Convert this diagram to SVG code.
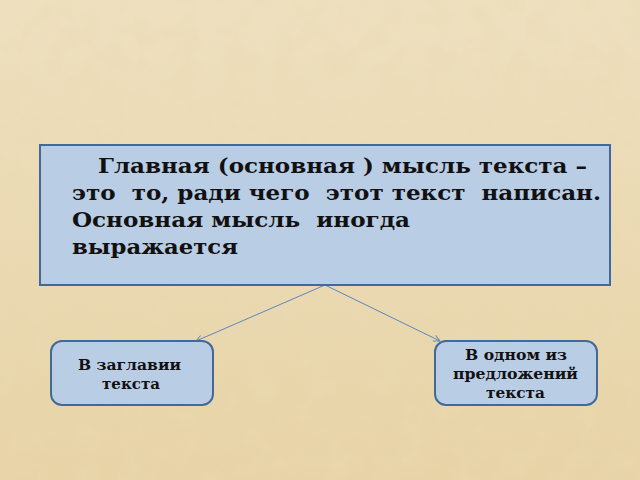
<svg xmlns="http://www.w3.org/2000/svg" width="640" height="480" viewBox="0 0 640 480">
<defs>
<linearGradient id="bg" x1="0" y1="0" x2="0" y2="1">
<stop offset="0" stop-color="#eee0bf"/>
<stop offset="1" stop-color="#e7d3a6"/>
</linearGradient>
<filter id="tex" x="0" y="0" width="100%" height="100%">
<feTurbulence type="fractalNoise" baseFrequency="0.04" numOctaves="3" seed="4"/>
<feColorMatrix type="matrix" values="0 0 0 0 0.82  0 0 0 0 0.70  0 0 0 0 0.46  0 0 0 1.4 -0.55"/>
</filter>
<marker id="arr" viewBox="0 0 10 10" refX="9" refY="5" markerWidth="8" markerHeight="8" orient="auto" markerUnits="userSpaceOnUse">
<path d="M1,1 L9,5 L1,9" fill="none" stroke="#5b87be" stroke-width="1.2"/>
</marker>
</defs>
<style>
.box{fill:#b9cde5;stroke:#43699a;stroke-width:2}
.t{font-family:"DejaVu Serif","Liberation Serif",serif;font-weight:bold;fill:#111}
.big{font-size:20px}
.small{font-size:15px}
.con{stroke:#5b87be;stroke-width:1;fill:none}
</style>
<rect width="640" height="480" fill="url(#bg)"/>
<rect width="640" height="480" filter="url(#tex)" opacity="0.7"/>
<g id="connectors">
<line class="con" x1="325" y1="285" x2="196" y2="341" marker-end="url(#arr)"/>
<line class="con" x1="325" y1="285" x2="440" y2="341" marker-end="url(#arr)"/>
</g>
<g id="main">
<rect class="box" x="40" y="145" width="570" height="140"/>
<text class="t big" x="98" y="173" textLength="489" lengthAdjust="spacingAndGlyphs">Главная (основная ) мысль текста –</text>
<text class="t big" x="72" y="200" textLength="529" lengthAdjust="spacingAndGlyphs" xml:space="preserve">это  то, ради чего  этот текст  написан.</text>
<text class="t big" x="72" y="227" textLength="338" lengthAdjust="spacingAndGlyphs" xml:space="preserve">Основная мысль  иногда</text>
<text class="t big" x="72" y="254" textLength="166" lengthAdjust="spacingAndGlyphs">выражается</text>
</g>
<g id="left">
<rect class="box" x="51" y="341" width="162" height="64" rx="11"/>
<text class="t small" x="78" y="370" textLength="103" lengthAdjust="spacingAndGlyphs">В заглавии</text>
<text class="t small" x="102" y="389" textLength="58" lengthAdjust="spacingAndGlyphs">текста</text>
</g>
<g id="right">
<rect class="box" x="435" y="341" width="162" height="64" rx="11"/>
<text class="t small" x="465" y="360" textLength="102" lengthAdjust="spacingAndGlyphs">В одном из</text>
<text class="t small" x="453" y="379" textLength="125" lengthAdjust="spacingAndGlyphs">предложений</text>
<text class="t small" x="486" y="398" textLength="59" lengthAdjust="spacingAndGlyphs">текста</text>
</g>
</svg>
